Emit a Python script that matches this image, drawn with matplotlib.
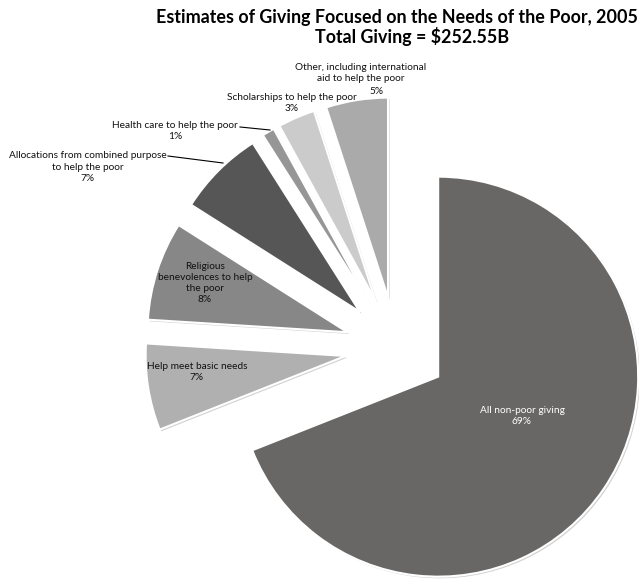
import matplotlib
matplotlib.use("Agg")
import matplotlib.pyplot as plt
import matplotlib.patheffects as pe

# share of total giving (2005), clockwise from 12 o'clock
categories = [
    "All non-poor giving",
    "Help meet basic needs",
    "Religious\nbenevolences to help\nthe poor",
    "Allocations from combined purpose\nto help the poor",
    "Health care to help the poor",
    "Scholarships to help the poor",
    "Other, including international\naid to help the poor",
]
shares = [69, 7, 8, 7, 1, 3, 5]
colors = ["#686766", "#b0b0b0", "#878787", "#575656", "#969696", "#cbcbcb", "#aaaaaa"]

W, H = 639, 579
plt.rcParams["font.family"] = ["Lato", "DejaVu Sans"]

fig = plt.figure(figsize=(W / 100, H / 100), dpi=100)
ax = fig.add_axes([0, 0, 1, 1])

def py(y):
    # y measured from the top edge
    return H - y

wedges, _ = ax.pie(
    shares,
    colors=colors,
    startangle=90,
    counterclock=False,
    radius=200,
    center=(396, py(348)),
    explode=[51] * len(shares),
    wedgeprops=dict(edgecolor="white", linewidth=1.5),
)
for w in wedges:
    w.set_path_effects([
        pe.SimplePatchShadow(offset=(1.2, -1.2), shadow_rgbFace="#9a9a9a", alpha=0.45),
        pe.Normal(),
    ])

ax.set_xlim(0, W)
ax.set_ylim(0, H)
ax.set_aspect("equal")
ax.axis("off")

fs = 7.3
dark = "#111111"
# labels sitting inside their wedges
ax.text(522, py(416), f"{categories[0]}\n{shares[0]}%", ha="center", va="center",
        fontsize=fs, color="white", linespacing=1.3)
ax.text(197, py(372), f"{categories[1]}\n{shares[1]}%", ha="center", va="center",
        fontsize=fs, color=dark, linespacing=1.3)
ax.text(205, py(283), f"{categories[2]}\n{shares[2]}%", ha="center", va="center",
        fontsize=fs, color=dark, linespacing=1.3)

# outside labels
ax.text(88, py(167), f"{categories[3]}\n{shares[3]}%", ha="center", va="center",
        fontsize=fs, color=dark, linespacing=1.3)
ax.text(175, py(131), f"{categories[4]}\n{shares[4]}%", ha="center", va="center",
        fontsize=fs, color=dark, linespacing=1.3)
ax.text(292, py(103), f"{categories[5]}\n{shares[5]}%", ha="center", va="center",
        fontsize=fs, color=dark, linespacing=1.3)
ax.text(361, py(73), categories[6], ha="center", va="center",
        fontsize=fs, color=dark, linespacing=1.3)
ax.text(377, py(92), f"{shares[6]}%", ha="center", va="center",
        fontsize=fs, color=dark)

# leader lines
ax.plot([168, 223], [py(156), py(163)], color="black", lw=0.8)
ax.plot([240, 270], [py(127), py(130)], color="black", lw=0.8)

ax.text(397, py(17), "Estimates of Giving Focused on the Needs of the Poor, 2005",
        ha="center", va="center", fontsize=12.9, fontweight="bold", color="black")
ax.text(412, py(36), "Total Giving = $252.55B",
        ha="center", va="center", fontsize=12.9, fontweight="bold", color="black")

fig.savefig("out.png", dpi=100)
